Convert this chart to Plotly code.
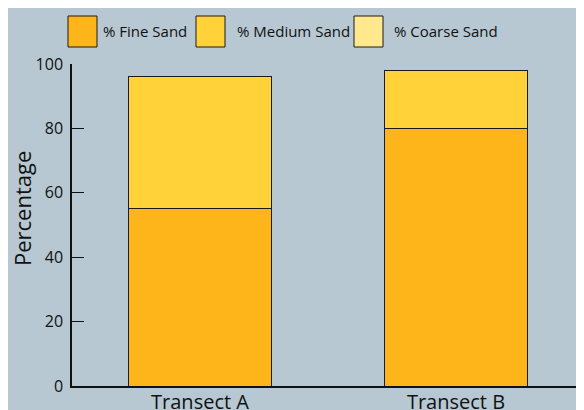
import plotly.graph_objects as go

categories = ["Transect A", "Transect B"]
fine_sand = [55, 80]
medium_sand = [41, 18]
coarse_sand = [0, 0]
series_names = ["% Fine Sand", "% Medium Sand", "% Coarse Sand"]
series_colors = ["#FDB519", "#FFD23A", "#FFE98C"]
y_ticks = [0, 20, 40, 60, 80, 100]

BG = "#B7C8D2"
FONT = "Open Sans"

fig = go.Figure()
for name, vals, col in zip(series_names, [fine_sand, medium_sand, coarse_sand], series_colors):
    fig.add_trace(go.Bar(x=categories, y=vals, name=name, marker_color=col,
                         marker_line_color="#1a1a1a", marker_line_width=1,
                         showlegend=False))

# page has an 8px body margin, so the figure is 8px smaller than the window
W, H = 576, 402
L, T, B = 64, 56, 24
PW, PH = W - L, H - T - B
# custom legend (large swatches); positions relative to plot area in window px
box_x = [68, 196, 354]
text_x = [101, 235, 392]
for bx, tx, name, col in zip(box_x, text_x, series_names, series_colors):
    fig.add_shape(type="rect", xref="paper", yref="paper",
                  x0=(bx - 72) / PW, x1=(bx + 29 - 72) / PW,
                  y0=(386 - 47) / PH, y1=(386 - 16) / PH,
                  fillcolor=col, line=dict(color="#1a1a1a", width=1))
    fig.add_annotation(xref="paper", yref="paper", x=(tx - 72) / PW, y=(386 - 31) / PH,
                       text=name, showarrow=False, xanchor="left", yanchor="middle",
                       font=dict(family=FONT, size=15, color="#111"))

# y-axis title (placed slightly above centre, as in the reference)
fig.add_annotation(xref="paper", yref="paper", x=(22 - 72) / PW, y=(386 - 209) / PH,
                   text="Percentage", textangle=-90, showarrow=False,
                   xanchor="center", yanchor="middle",
                   font=dict(family=FONT, size=22, color="#111"))

fig.update_layout(
    width=W, height=H,
    barmode="stack", bargap=0.44,
    paper_bgcolor=BG, plot_bgcolor=BG,
    margin=dict(l=L, r=0, t=T, b=B),
    font=dict(family=FONT, color="#111"),
)
fig.update_yaxes(range=[0, 100], tickvals=y_ticks, ticks="inside", ticklen=12,
                 tickcolor="#111", showline=True, linecolor="#111", linewidth=1.5,
                 showgrid=False, zeroline=False, tickfont=dict(size=16),
                 automargin=False, ticklabelstandoff=4)
fig.update_xaxes(showline=True, linecolor="#111", linewidth=1.5, ticks="",
                 showgrid=False, tickfont=dict(size=20), ticklabelstandoff=-3,
                 automargin=False)

fig.write_html("out.html")
